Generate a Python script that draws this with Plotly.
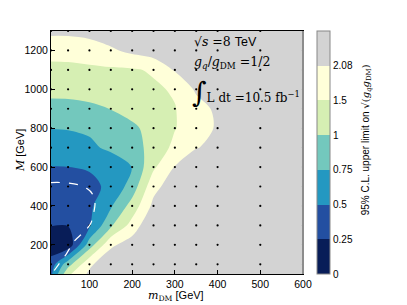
import numpy as np
import plotly.graph_objects as go

# ---- data -------------------------------------------------------------
m_dm = [10, 50, 100, 150, 200, 250, 300, 350, 400, 450, 500, 550, 600]          # GeV
m_med = [50, 100, 200, 300, 400, 500, 600, 700, 800, 900, 1000, 1100, 1200, 1300]  # GeV

# 95% CL upper limit on sqrt(gq*gDM), one row per mediator mass (values >2.08 shown grey)
lim_50 = [0.45, 1.40, 2.26, 3.0, 3.0, 3.0, 3.0, 3.0, 3.0, 3.0, 3.0, 3.0, 3.0]
lim_100 = [0.37, 0.90, 1.96, 2.82, 3.0, 3.0, 3.0, 3.0, 3.0, 3.0, 3.0, 3.0, 3.0]
lim_200 = [0.075, 0.075, 0.875, 1.96, 2.54, 3.0, 3.0, 3.0, 3.0, 3.0, 3.0, 3.0, 3.0]
lim_300 = [0.258, 0.258, 0.475, 0.96, 1.73, 3.0, 3.0, 3.0, 3.0, 3.0, 3.0, 3.0, 3.0]
lim_400 = [0.35, 0.375, 0.45, 0.72, 1.20, 2.31, 3.0, 3.0, 3.0, 3.0, 3.0, 3.0, 3.0]
lim_500 = [0.375, 0.39, 0.44, 0.55, 0.86, 1.90, 2.59, 3.0, 3.0, 3.0, 3.0, 3.0, 3.0]
lim_600 = [0.495, 0.497, 0.52, 0.59, 0.755, 1.42, 2.12, 2.91, 3.0, 3.0, 3.0, 3.0, 3.0]
lim_700 = [0.625, 0.66, 0.70, 0.80, 0.93, 1.12, 1.67, 2.05, 2.36, 3.0, 3.0, 3.0, 3.0]
lim_800 = [0.755, 0.76, 0.79, 0.875, 0.96, 1.15, 1.475, 1.85, 2.17, 2.82, 3.0, 3.0, 3.0]
lim_900 = [0.89, 0.90, 0.95, 1.01, 1.15, 1.30, 1.48, 1.85, 2.26, 2.63, 3.0, 3.0, 3.0]
lim_1000 = [1.20, 1.20, 1.20, 1.25, 1.33, 1.43, 1.56, 2.22, 2.82, 3.0, 3.0, 3.0, 3.0]
lim_1100 = [1.40, 1.40, 1.41, 1.43, 1.45, 1.56, 2.17, 2.91, 3.0, 3.0, 3.0, 3.0, 3.0]
lim_1200 = [1.65, 1.67, 1.79, 1.99, 2.31, 2.63, 2.91, 3.0, 3.0, 3.0, 3.0, 3.0, 3.0]
lim_1300 = [2.31, 2.31, 2.40, 2.63, 3.0, 3.0, 3.0, 3.0, 3.0, 3.0, 3.0, 3.0, 3.0]

limit_rows = [lim_50, lim_100, lim_200, lim_300, lim_400, lim_500, lim_600, lim_700,
              lim_800, lim_900, lim_1000, lim_1100, lim_1200, lim_1300]

# contour levels and colorbar labels
levels = [0, 0.25, 0.5, 0.75, 1.0, 1.5, 2.08, 3.0]
level_labels = ["0", "0.25", "0.5", "0.75", "1", "1.5", "2.08"]

# generated-sample grid points (dots)
pt_x = [10, 50, 100, 150, 200, 250, 300, 350, 400, 500, 600]
pt_y = [100, 200, 300, 400, 500, 600, 700, 800, 900, 1000, 1100, 1200, 1300]

# expected-limit dashed curve
exp_x = [10, 25, 50, 75, 95, 106, 113, 110, 103, 85, 65, 45, 28, 15]
exp_y = [520, 521, 518, 508, 488, 465, 415, 365, 310, 262, 220, 150, 100, 60]

# ---- figure -------------------------------------------------------------
colors = ["#081d58", "#234fa1", "#2498c1", "#73c8bd", "#d6efb3", "#ffffd9", "#d3d3d3"]
n = len(colors)
cscale = []
for k, c in enumerate(colors):
    cscale.append([k / n, c])
    cscale.append([(k + 1) / n, c])

z = np.array(limit_rows, dtype=float)
z_idx = np.interp(z, levels, np.arange(len(levels)))

SANS = "Liberation Sans, Arial, sans-serif"
SERIF = "DejaVu Serif, Liberation Serif, serif"

fig = go.Figure()
fig.add_trace(go.Contour(
    x=m_dm, y=m_med, z=z_idx,
    zmin=0, zmax=7,
    contours=dict(start=1, end=6, size=1, coloring="fill", showlines=False),
    line=dict(width=0, smoothing=0.9),
    colorscale=cscale,
    colorbar=dict(
        x=1.056, xanchor="left", y=0.5, yanchor="middle",
        len=1, lenmode="fraction", thickness=13, xpad=0, ypad=0,
        outlinewidth=1, outlinecolor="#888888",
        tickmode="array", tickvals=list(range(len(level_labels))), ticktext=level_labels,
        ticks="", tickfont=dict(family=SANS, size=10, color="black"),
    ),
    hoverinfo="skip",
))

gx, gy = np.meshgrid(pt_x, pt_y)
fig.add_trace(go.Scatter(
    x=gx.ravel(), y=gy.ravel(), mode="markers",
    marker=dict(size=2.2, color="black"), showlegend=False, hoverinfo="skip",
))

fig.add_trace(go.Scatter(
    x=exp_x, y=exp_y, mode="lines",
    line=dict(color="white", width=1.2, dash="dash", shape="spline"),
    showlegend=False, hoverinfo="skip",
))

axis_common = dict(showgrid=False, zeroline=False, showline=True, linecolor="black",
                   linewidth=1, mirror=True, ticks="inside", ticklen=4,
                   tickcolor="black", tickfont=dict(family=SANS, size=10.5, color="black"))
fig.update_xaxes(range=[10, 600], tickvals=[100, 200, 300, 400, 500, 600], **axis_common)
fig.update_yaxes(range=[50, 1300], tickvals=[200, 400, 600, 800, 1000, 1200], **axis_common)

# grey right-hand frame edge as in the reference
fig.add_shape(type="line", xref="paper", yref="paper", x0=1, x1=1, y0=0, y1=1,
              line=dict(color="#8c8c8c", width=2))

annots = [
    dict(x=0.56, y=0.957, size=12.5,
         text="√<i>s</i> =8 <span style='font-family:Liberation Sans'>TeV</span>"),
    dict(x=0.56, y=0.871, size=12.5,
         text="<i>g<sub>q</sub></i>/<i>g</i><sub>DM</sub> =1/2"),
    dict(x=0.552, y=0.745, size=12,
         text="<span style='font-size:28px'>∫</span>L dt =10.5 fb<sup>−1</sup>"),
]
for a in annots:
    fig.add_annotation(xref="paper", yref="paper", xanchor="left", yanchor="middle",
                       showarrow=False, font=dict(family=SERIF, size=a["size"], color="black"),
                       x=a["x"], y=a["y"], text=a["text"])

fig.add_annotation(xref="paper", yref="paper", x=0.497, y=-0.09, xanchor="center", yanchor="middle",
                   showarrow=False, font=dict(family=SANS, size=11, color="black"),
                   text="<span style='font-family:DejaVu Serif'><i>m</i><sub>DM</sub></span> [GeV]")
fig.add_annotation(xref="paper", yref="paper", x=-0.12, y=0.509, xanchor="center", yanchor="middle",
                   textangle=-90, showarrow=False, font=dict(family=SANS, size=11, color="black"),
                   text="<span style='font-family:DejaVu Serif'><i>M</i></span> [GeV]")
fig.add_annotation(xref="paper", yref="paper", x=1.25, y=0.55, xanchor="center", yanchor="middle",
                   textangle=-90, showarrow=False, font=dict(family=SANS, size=10, color="black"),
                   text="95% C.L. upper limit on <span style='font-family:DejaVu Serif'>√(<i>g<sub>q</sub>g</i><sub>DM</sub>)</span>")

fig.update_layout(
    width=407, height=305,
    margin=dict(l=51, r=104, t=31, b=31),
    paper_bgcolor="white", plot_bgcolor="#d3d3d3",
    showlegend=False,
)

fig.write_html("out.html", config={"displayModeBar": False},
               post_script="document.body.style.margin='0';document.body.style.padding='0';")
